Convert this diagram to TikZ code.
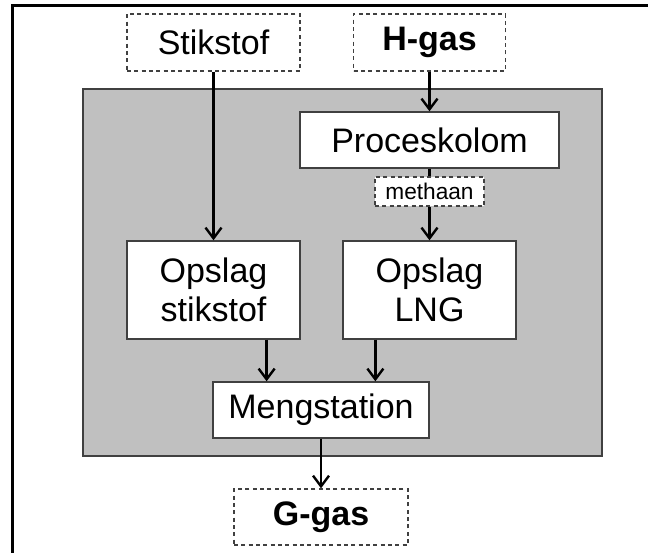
\documentclass[tikz,border=0pt]{standalone}
\usepackage{fontspec}
\setmainfont{Liberation Sans}
\usetikzlibrary{arrows.meta,calc}
\definecolor{grigio}{RGB}{192,192,192}
\definecolor{bordo}{RGB}{64,64,64}

\begin{document}
\begin{tikzpicture}[x=0.75pt, y=-0.75pt, >={Straight Barb[length=8pt,width=12pt]},
    blocco/.style={draw=bordo, line width=1.1pt, fill=white, inner sep=0pt, align=center,
        font=\fontsize{25.5}{29.25}\selectfont},
    fonte/.style={blocco, line width=1pt, dash pattern=on 3pt off 2.5pt},
    freccia/.style={->, line width=1.8pt}]

    % Area visibile (il riquadro esterno esce dal bordo a destra e in basso)
    \clip (0,0) rectangle (648,552);
    \draw[line width=2.25pt] (12,6) rectangle (680,600);

    % --- IMPIANTO (riquadro grigio) ---
    \draw[fill=grigio, draw=bordo, line width=1.5pt] (83,89) rectangle (602,456);

    % --- SORGENTI E USCITA (riquadri tratteggiati) ---
    \node[fonte, minimum width=129.75pt, minimum height=42.75pt] (Stik) at (213.5,42.5) {Stikstof};
    \node[fonte, minimum width=114pt, minimum height=42.75pt] (Hgas) at (429.5,42.5) {\bfseries H-gas};
    \node[fonte, minimum width=130.5pt, minimum height=42pt] (Ggas) at (321,517) {\bfseries G-gas};

    % --- BLOCCHI DELL'IMPIANTO ---
    \node[blocco, minimum width=194.25pt, minimum height=42pt] (Kol) at (429.5,140) {Proceskolom};
    \node[fonte, font=\fontsize{17}{19}\selectfont, minimum width=81.75pt, minimum height=21.75pt]
        (Met) at (429.5,191.5) {methaan};
    \node[blocco, minimum width=129.75pt, minimum height=73.5pt] (OpS) at (213.5,290) {Opslag\\stikstof};
    \node[blocco, minimum width=129.75pt, minimum height=73.5pt] (OpL) at (429.5,290) {Opslag\\LNG};
    \node[blocco, minimum width=162pt, minimum height=42pt] (Meng) at (321,410) {Mengstation};

    % Punti d'ingresso sulla stazione di miscela
    \coordinate (ingS) at ($(Meng.north west)!0.25!(Meng.north east)$);
    \coordinate (ingL) at ($(Meng.north west)!0.75!(Meng.north east)$);

    % --- FLUSSI ---
    \draw[freccia] (Stik) -- (OpS);
    \draw[freccia] (Hgas) -- (Kol);
    \draw[line width=1.8pt] (Kol) -- (Met);
    \draw[freccia] (Met) -- (OpL);
    \draw[freccia] (OpS.south -| ingS) -- (ingS);
    \draw[freccia] (OpL.south -| ingL) -- (ingL);
    \draw[freccia] (Meng) -- (Ggas);

\end{tikzpicture}
\end{document}
